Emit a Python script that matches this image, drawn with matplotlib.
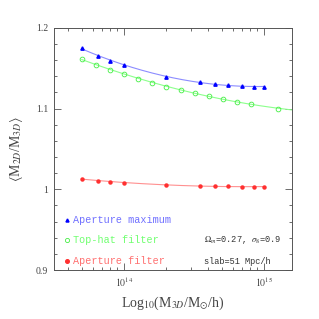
import numpy as np
import matplotlib
matplotlib.use("Agg")
import matplotlib.pyplot as plt

# Data
mass_max = [5.0e13, 6.5e13, 8.0e13, 1.0e14, 2.0e14, 3.5e14, 4.5e14, 5.5e14, 7.0e14, 8.5e14, 1.0e15]
ratio_max = [1.1748, 1.1657, 1.1595, 1.1538, 1.1396, 1.1327, 1.1306, 1.1290, 1.1277, 1.1272, 1.1269]

mass_tophat = [5.0e13, 6.3e13, 7.9e13, 1.0e14, 1.26e14, 1.59e14, 2.0e14, 2.54e14, 3.2e14,
               4.03e14, 5.07e14, 6.4e14, 8.1e14, 1.27e15]
ratio_tophat = [1.1616, 1.1545, 1.1483, 1.1426, 1.1372, 1.1322, 1.1272, 1.1231, 1.1194,
                1.1157, 1.1120, 1.1087, 1.1055, 1.0996]

mass_ap = [5.0e13, 6.5e13, 8.0e13, 1.0e14, 2.0e14, 3.5e14, 4.5e14, 5.5e14, 7.0e14, 8.5e14, 1.0e15]
ratio_ap = [1.0133, 1.0108, 1.0090, 1.0078, 1.0058, 1.0041, 1.0037, 1.0037, 1.0033, 1.0033, 1.0029]

labels = ["Aperture maximum", "Top-hat filter", "Aperture filter"]

plt.rcParams['mathtext.fontset'] = 'stix'
serif = ['Liberation Serif', 'DejaVu Serif']
mono = ['Liberation Mono', 'DejaVu Sans Mono']
gray = '#555555'

fig = plt.figure(figsize=(3.19, 3.19), dpi=100)
ax = fig.add_axes([0.169, 0.1536, 0.746, 0.759])
ax.set_xscale('log')
xmin, xmax = 10**13.5, 10**15.2
ax.set_xlim(xmin, xmax)
ax.set_ylim(0.9, 1.2)


def fit_line(x, y, x_end=None, deg=2):
    lx = np.log10(x)
    p = np.polyfit(lx, y, deg)
    end = np.log10(x_end) if x_end else lx[-1]
    xx = np.linspace(lx[0], end, 200)
    return 10**xx, np.polyval(p, xx)

fx, fy = fit_line(mass_max, ratio_max)
ax.plot(fx, fy, color='#8c8cff', lw=0.8)
ax.plot(mass_max, ratio_max, ls='none', marker='^', ms=2.4, color='#0000ff')

fx, fy = fit_line(mass_tophat, ratio_tophat, x_end=xmax)
ax.plot(fx, fy, color='#8cff8c', lw=0.8)
ax.plot(mass_tophat, ratio_tophat, ls='none', marker='o', ms=3.4, mfc='none', mec='#44ee44', mew=0.6)

fx, fy = fit_line(mass_ap, ratio_ap)
ax.plot(fx, fy, color='#ff9090', lw=0.8)
ax.plot(mass_ap, ratio_ap, ls='none', marker='o', ms=2.2, color='#ff3030')

# Legend (manual)
leg_y = [0.962, 0.937, 0.911]
leg_colors = ['#7070ff', '#70ff70', '#ff7070']
leg_marker = [dict(marker='^', ms=2.2, color='#0000ff'),
              dict(marker='o', ms=3.0, mfc='none', mec='#44ee44', mew=0.6),
              dict(marker='o', ms=2.6, color='#ff3030')]
for yy, lab, c, mk in zip(leg_y, labels, leg_colors, leg_marker):
    ax.plot([3.95e13], [yy], ls='none', **mk)
    ax.text(4.35e13, yy, lab, color=c, fontsize=7.3, family=mono, va='center', ha='left')

ax.text(3.75e14, 0.937, r'$\Omega_m$=0.27, $\sigma_8$=0.9', fontsize=6.2, family=mono,
        va='center', ha='left', color='#333333')
ax.text(3.75e14, 0.911, 'slab=51 Mpc/h', fontsize=6.2, family=mono,
        va='center', ha='left', color='#333333')

ax.set_yticks([0.9, 1.0, 1.1, 1.2])
ax.set_yticklabels(['0.9', '1', '1.1', '1.2'])
ax.set_yticks(np.arange(0.9, 1.2001, 0.02), minor=True)
ax.set_xticks([1e14, 1e15])
ax.set_xticklabels([r'$10^{14}$', r'$10^{15}$'])

ax.tick_params(which='both', direction='in', top=True, right=True, colors=gray,
               labelsize=7, labelcolor='#444444', width=0.6)
ax.tick_params(which='major', length=5, pad=4)
ax.tick_params(which='minor', length=2.5)
for lab in ax.get_yticklabels() + ax.get_xticklabels():
    lab.set_family(serif)
for s in ax.spines.values():
    s.set_color(gray)
    s.set_linewidth(0.7)

ax.set_xlabel(r'Log$_{10}$(M$_{3D}$/M$_{\odot}$/h)', fontsize=10, family=serif, color='#444444', labelpad=4)
ax.set_ylabel(r'$\langle$M$_{2D}$/M$_{3D}\rangle$', fontsize=10, family=serif, color='#444444', labelpad=8)

fig.savefig('out.png', dpi=100)
